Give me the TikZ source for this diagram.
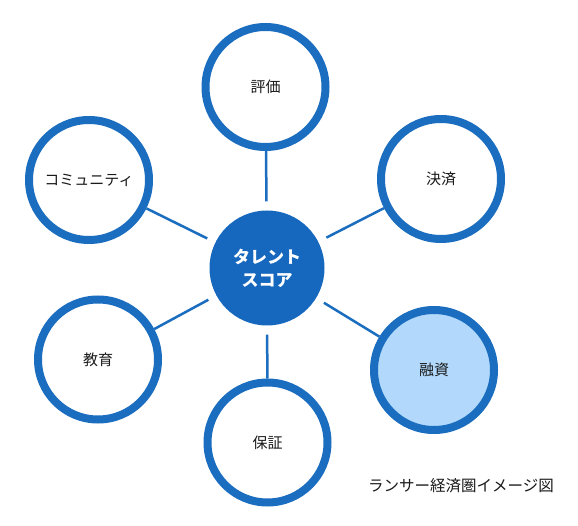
\documentclass[tikz,border=0pt]{standalone}
\usepackage{fontspec}
\setmainfont{Noto Sans CJK JP}
\definecolor{ringblue}{HTML}{1A6DBF}
\definecolor{hubblue}{HTML}{1667BE}
\definecolor{lightfill}{HTML}{B2D9FB}
\definecolor{txt}{HTML}{1A1A1A}
\begin{document}
\begin{tikzpicture}[x=1pt,y=-1pt,
  ring/.style={circle, draw=ringblue, line width=8pt, fill=white, minimum size=120pt, inner sep=0pt, text=txt, font=\fontsize{15}{18}\selectfont},
  hubnode/.style={circle, fill=hubblue, minimum size=115pt, inner sep=0pt, text=white, align=center, font=\fontsize{17}{23}\selectfont\bfseries},
  link/.style={draw=ringblue, line width=2.5pt, shorten <=9pt},
  caption/.style={text=txt, font=\fontsize{15.5}{18}\selectfont, inner sep=0pt}]
\useasboundingbox[fill=white] (0,0) rectangle (578,526);
\node[hubnode] (hub) at (267,268) {タレント\\スコア};
\node[ring] (hyouka) at (265.5,87) {評価};
\node[ring] (kessai) at (441,179) {決済};
\node[ring, fill=lightfill] (yuushi) at (434,370) {融資};
\node[ring] (hoshou) at (267.5,442.5) {保証};
\node[ring] (kyouiku) at (98,359.5) {教育};
\node[ring] (community) at (89,180) {コミュニティ};
\foreach \n in {hyouka,kessai,yuushi,hoshou,kyouiku,community}
  \draw[link] (hub) -- (\n);
\node[caption, anchor=west] (cap) at (368,486) {ランサー経済圏イメージ図};
\end{tikzpicture}
\end{document}
